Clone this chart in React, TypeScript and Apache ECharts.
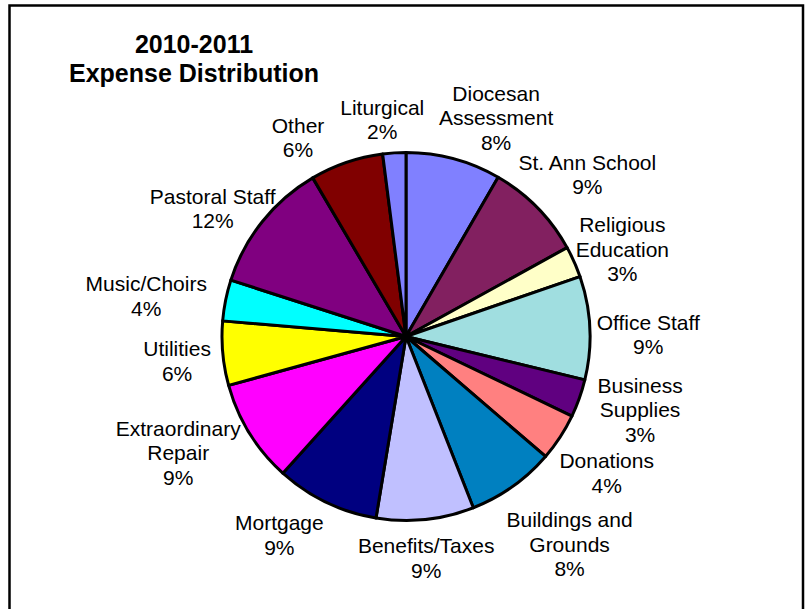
import React, { useEffect, useRef } from "react";
import * as echarts from "echarts";

// Categories (as displayed, clockwise from 12 o'clock)
const categories = [
  "Diocesan\nAssessment",
  "St. Ann School",
  "Religious\nEducation",
  "Office Staff",
  "Business\nSupplies",
  "Donations",
  "Buildings and\nGrounds",
  "Benefits/Taxes",
  "Mortgage",
  "Extraordinary\nRepair",
  "Utilities",
  "Music/Choirs",
  "Pastoral Staff",
  "Other",
  "Liturgical",
];

// Share of total expenses (%)
const shares = [8.36, 8.64, 2.75, 9.08, 3.33, 4.19, 7.75, 8.58, 9.08, 9.06, 5.64, 3.61, 11.6, 6.44, 2.03];

const colors = [
  "#8080FF", "#822060", "#FFFFC8", "#A0DEE0", "#600080",
  "#FF8080", "#0080C0", "#C0C0FF", "#000080", "#FF00FF",
  "#FFFF00", "#00FFFF", "#800080", "#800000", "#8080FF",
];

const titleLines = ["2010-2011", "Expense Distribution"];

// Layout constants
const FONT = "'Liberation Sans', Arial, Helvetica, sans-serif";
const CX = 406;
const CY = 336.5;
const R = 184;
const LABEL_GAP = 6;
// Excel-style collision adjustments of the outside labels (px)
const LABEL_NUDGE: [number, number][] = [
  [26, 0], [-4, -12], [0, 5], [1, 8], [15, -3],
  [2, 19], [17, 23], [-7, 8], [-25, 5], [-13, -3],
  [-6, 5], [-14, 2], [4, 6], [-38, 4], [-9, -3],
];

export default function App() {
  const ref = useRef<HTMLDivElement>(null);

  useEffect(() => {
    if (!ref.current) return;
    const chart = echarts.init(ref.current, null, { renderer: "svg" });
    const total = shares.reduce((a, b) => a + b, 0);
    const mids: number[] = [];
    let acc = 0;
    for (const v of shares) {
      mids.push(((acc + v / 2) / total) * 2 * Math.PI);
      acc += v;
    }

    chart.setOption({
      animation: false,
      backgroundColor: "#ffffff",
      title: {
        text: titleLines.join("\n"),
        left: 194,
        top: 29,
        padding: 0,
        textAlign: "center",
        textStyle: {
          fontFamily: FONT,
          fontSize: 25,
          fontWeight: "bold",
          lineHeight: 29,
          color: "#000",
        },
      },
      graphic: [
        {
          type: "rect",
          silent: true,
          z: 100,
          shape: { x: 9.5, y: 5.5, width: 793.5, height: 620 },
          style: { fill: "none", stroke: "#000", lineWidth: 2.5 },
        },
      ],
      series: [
        {
          type: "pie",
          center: [CX, CY],
          radius: R,
          startAngle: 90,
          clockwise: true,
          avoidLabelOverlap: false,
          emphasis: { disabled: true },
          data: categories.map((name, i) => ({
            name,
            value: shares[i],
            itemStyle: { color: colors[i] },
          })),
          itemStyle: { borderColor: "#000", borderWidth: 3 },
          label: {
            show: true,
            position: "outside",
            formatter: (p: any) => `${p.name}\n${Math.round(p.percent)}%`,
            fontFamily: FONT,
            fontSize: 21,
            lineHeight: 24.5,
            color: "#000",
          },
          labelLine: { show: false },
          labelLayout: (p: any) => {
            const a = mids[p.dataIndex];
            const dx = Math.sin(a);
            const dy = -Math.cos(a);
            const hw = p.labelRect.width / 2;
            const hh = p.labelRect.height / 2;
            const [nx, ny] = LABEL_NUDGE[p.dataIndex];
            return {
              x: CX + dx * (R + LABEL_GAP) + dx * hw + nx,
              y: CY + dy * (R + LABEL_GAP) + dy * hh + ny,
              align: "center",
              verticalAlign: "middle",
            };
          },
        },
      ],
    });
    return () => chart.dispose();
  }, []);

  return (
    <div
      ref={ref}
      style={{ position: "fixed", left: 0, top: 0, width: 806, height: 609 }}
    />
  );
}
